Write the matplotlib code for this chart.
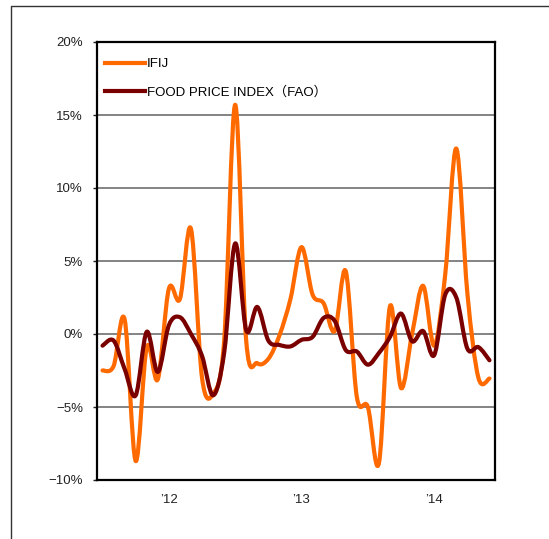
import numpy as np
import matplotlib
matplotlib.use("Agg")
import matplotlib.pyplot as plt
from matplotlib.path import Path
from matplotlib.patches import PathPatch
from matplotlib.lines import Line2D

plt.rcParams['font.family'] = ['Liberation Sans', 'Noto Sans CJK JP', 'DejaVu Sans']

# monthly, Jul 2011 .. Jun 2014 (year-on-year change, %)
months = list(range(36))
ifij = [-2.5, -2.2, 1.0, -8.7, -0.9, -3.1, 3.1, 2.4, 7.2, -3.0, -4.1, -0.5,
        15.7, -0.5, -2.0, -1.7, -0.1, 2.4, 5.95, 2.7, 2.1, 0.2, 4.3, -4.3,
        -5.0, -8.85, 1.9, -3.7, 0.0, 3.3, -0.8, 4.1, 12.7, 2.8, -3.0, -3.05]
fao = [-0.8, -0.45, -2.4, -4.2, 0.15, -2.6, 0.6, 1.15, 0.0, -1.5, -4.2, -1.3,
       6.2, 0.25, 1.85, -0.45, -0.75, -0.85, -0.4, -0.2, 1.1, 0.9, -1.1, -1.2,
       -2.1, -1.3, -0.2, 1.4, -0.5, 0.2, -1.45, 2.7, 2.5, -1.0, -0.9, -1.8]

year_pos = [6, 18, 30]
year_labels = ["’12", "’13", "’14"]
y_ticks = [-10, -5, 0, 5, 10, 15, 20]
y_labels = ["−10%", "−5%", "0%", "5%", "10%", "15%", "20%"]

ORANGE = "#FF6A00"
MAROON = "#7A0000"


def smooth_path(x, y):
    # Excel style smoothed line: cubic bezier through every point
    pts = np.column_stack([x, y]).astype(float)
    n = len(pts)
    verts = [pts[0]]
    codes = [Path.MOVETO]
    for i in range(n - 1):
        p0 = pts[max(i - 1, 0)]
        p1 = pts[i]
        p2 = pts[i + 1]
        p3 = pts[min(i + 2, n - 1)]
        c1 = p1 + (p2 - p0) / 6.0
        c2 = p2 - (p3 - p1) / 6.0
        verts += [c1, c2, p2]
        codes += [Path.CURVE4] * 3
    return Path(verts, codes)


fig = plt.figure(figsize=(5.49, 5.39), dpi=100)
ax = fig.add_axes([97 / 549, 1 - 480 / 539, 398 / 549, 438 / 539])

# figure border (cut at right and bottom)
fig.add_artist(Line2D([10.5 / 549, 10.5 / 549, 1.0], [0.0, 1 - 5.5 / 539, 1 - 5.5 / 539],
                      transform=fig.transFigure, color="#333333", lw=1.0))

for v in [-5, 0, 5, 10, 15]:
    ax.axhline(v, color="#6e6e6e", lw=1.2, zorder=1)

for data, col in [(ifij, ORANGE), (fao, MAROON)]:
    patch = PathPatch(smooth_path(months, data), facecolor="none", edgecolor=col,
                      lw=3.0, capstyle="round", joinstyle="round", zorder=3)
    ax.add_patch(patch)

ax.set_xlim(-0.5, 35.5)
ax.set_ylim(-10, 20)
ax.set_yticks(y_ticks)
ax.set_yticklabels(y_labels)
ax.set_xticks(year_pos)
ax.set_xticklabels(year_labels)
ax.tick_params(axis="x", length=0, pad=10, labelsize=9.5, colors="#222222")
ax.tick_params(axis="y", length=3, width=1, direction="out", pad=7, labelsize=9.5,
               colors="#222222")
for s in ax.spines.values():
    s.set_linewidth(1.6)
    s.set_color("black")

handles = [Line2D([], [], color=ORANGE, lw=3.0),
           Line2D([], [], color=MAROON, lw=3.0)]
ax.legend(handles, ["IFIJ", "FOOD PRICE INDEX（FAO）"], loc="upper left",
          bbox_to_anchor=(0.02, 0.963), borderpad=0, frameon=False, fontsize=9.5,
          handlelength=3.0, handletextpad=0.2, labelspacing=1.2, borderaxespad=0)

fig.savefig("out.png", dpi=100)
